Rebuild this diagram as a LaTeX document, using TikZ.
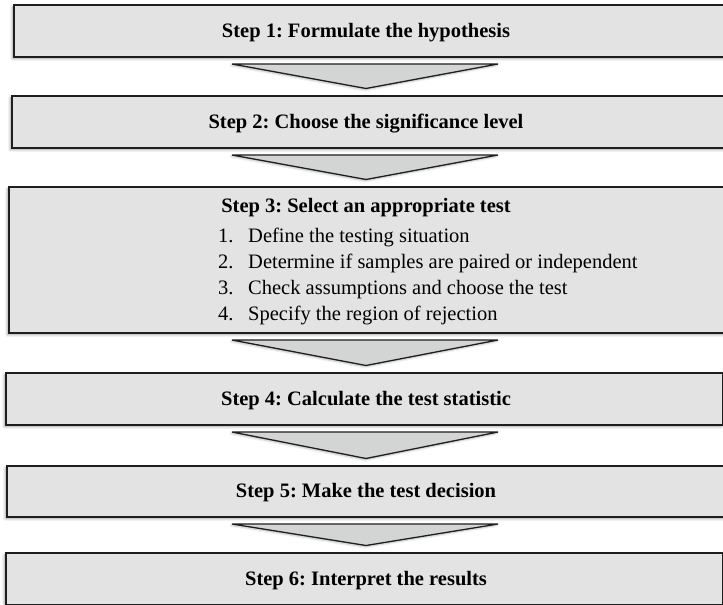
\documentclass[tikz,border=0pt]{standalone}
\usepackage{fontspec}
\setmainfont{Liberation Serif}
\usetikzlibrary{calc,shadows.blur}

\definecolor{edge}{HTML}{1E1E1E}
\definecolor{boxfill}{HTML}{E3E3E3}
\definecolor{chevfill}{HTML}{D3D5D5}

\begin{document}
\frenchspacing
\begin{tikzpicture}[x=1pt,y=-1pt,
  stepbox/.style={draw=edge, line width=1.5pt, fill=boxfill, anchor=north west,
    inner sep=0pt,
    blur shadow={shadow xshift=-1.5pt, shadow yshift=-2pt, shadow opacity=35,
      shadow blur radius=2.5pt, shadow blur steps=6}},
  steptitle/.style={font=\fontsize{20.5}{24}\selectfont\bfseries, inner sep=0pt, anchor=base},
  itemtext/.style={font=\fontsize{20.5}{26}\selectfont, inner sep=0pt, anchor=base west},
  chevron/.style={draw=edge, line width=1.3pt, fill=chevfill, line join=miter,
    blur shadow={shadow xshift=-1pt, shadow yshift=-1.5pt, shadow opacity=25,
      shadow blur radius=2pt, shadow blur steps=5}}
]
\useasboundingbox (0,0) rectangle (723,605);

% the six step boxes
\node[stepbox, minimum width=711pt, minimum height=52pt]  (s1) at (13,4) {};
\node[stepbox, minimum width=713pt, minimum height=52pt]  (s2) at (11,95) {};
\node[stepbox, minimum width=716pt, minimum height=146pt] (s3) at (8,186) {};
\node[stepbox, minimum width=717pt, minimum height=52pt]  (s4) at (5,372) {};
\node[stepbox, minimum width=718pt, minimum height=51pt]  (s5) at (6,465) {};
\node[stepbox, minimum width=717pt, minimum height=52pt]  (s6) at (5,552) {};

% titles (placed by baseline)
\node[steptitle] (t1) at (366,37)  {Step 1: Formulate the hypothesis};
\node[steptitle] (t2) at (366,128) {Step 2: Choose the significance level};
\node[steptitle] (t3) at (366,212) {Step 3: Select an appropriate test};
\node[steptitle] (t4) at (366,405) {Step 4: Calculate the test statistic};
\node[steptitle] (t5) at (366,497) {Step 5: Make the test decision};
\node[steptitle] (t6) at (366,585) {Step 6: Interpret the results};

% sub-steps of step 3
\foreach \n/\txt [count=\i from 0] in {1/Define the testing situation,
    2/Determine if samples are paired or independent,
    3/Check assumptions and choose the test,
    4/Specify the region of rejection}{
  \node[itemtext] (n\n) at (218,242+26*\i) {\n.};
  \node[itemtext] (i\n) at (248,242+26*\i) {\txt};
}

% chevrons between consecutive steps
\foreach \a/\b in {s1/s2, s2/s3, s3/s4, s4/s5, s5/s6}{
  \path let \p1=(\a.south), \p2=(\b.north) in
    [chevron] (232pt,\y1-6.5pt) -- (498pt,\y1-6.5pt) -- (366pt,\y2+6.5pt) -- cycle;
}
\end{tikzpicture}
\end{document}
